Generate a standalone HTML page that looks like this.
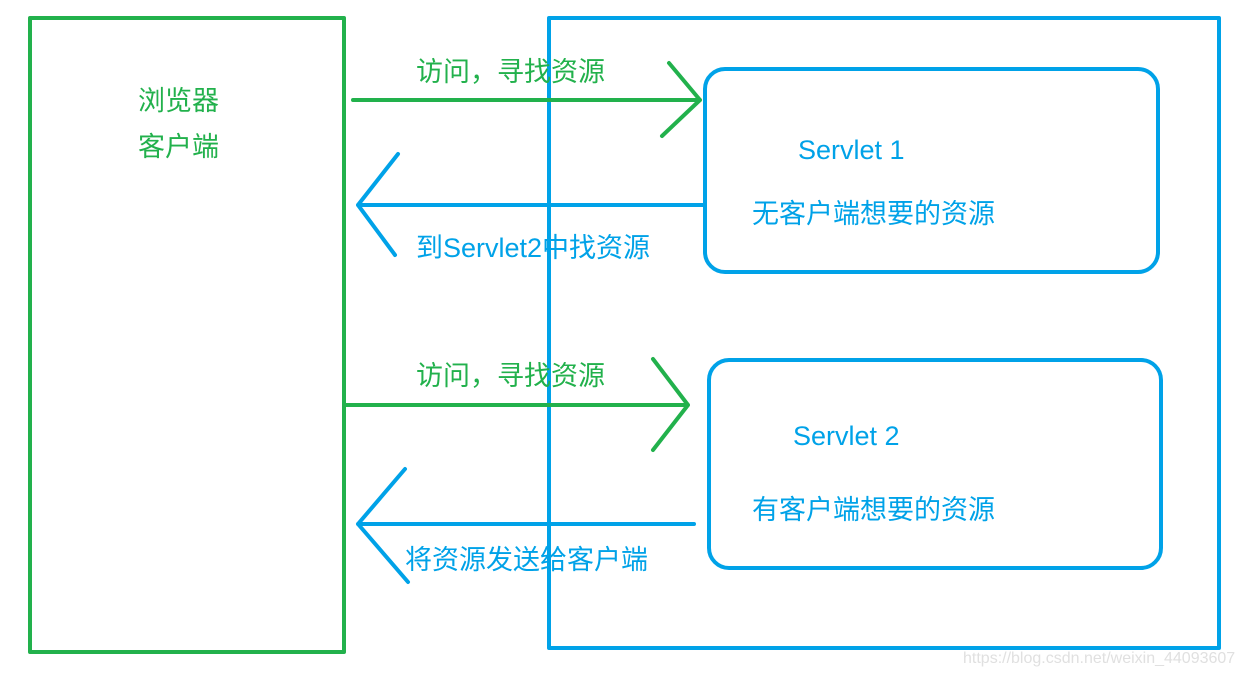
<!DOCTYPE html>
<html><head><meta charset="utf-8"><style>
html,body{margin:0;padding:0;background:#fff;}
svg text{font-family:"Liberation Sans","Noto Sans CJK SC",sans-serif;font-size:27px;}
</style></head><body>
<svg width="1245" height="675" viewBox="0 0 1245 675" xmlns="http://www.w3.org/2000/svg">
<g fill="none" stroke-width="4" stroke-linecap="round" stroke-linejoin="round">
<rect x="30" y="18" width="314" height="634" stroke="#22b14c" stroke-linecap="butt"/>
<rect x="549" y="18" width="670" height="630" stroke="#00a2e8" stroke-linecap="butt"/>
<rect x="705" y="69" width="453" height="203" rx="20" stroke="#00a2e8"/>
<rect x="709" y="360" width="452" height="208" rx="20" stroke="#00a2e8"/>
<path d="M353 100H700M669 63L700 100L662 136" stroke="#22b14c"/>
<path d="M705 205H358M398 154L358 205L395 255" stroke="#00a2e8"/>
<path d="M344 405H688M653 359L688 405L653 450" stroke="#22b14c"/>
<path d="M694 524H358M405 469L358 524L408 582" stroke="#00a2e8"/>
</g>
<g fill="#22b14c">
<text x="138" y="110">浏览器</text>
<text x="138" y="156">客户端</text>
<text x="416" y="81">访问，寻找资源</text>
<text x="416" y="385">访问，寻找资源</text>
</g>
<g fill="#00a2e8">
<text x="798" y="159">Servlet 1</text>
<text x="752" y="223">无客户端想要的资源</text>
<text x="416" y="257">到Servlet2中找资源</text>
<text x="793" y="445">Servlet 2</text>
<text x="752" y="519">有客户端想要的资源</text>
<text x="405" y="569">将资源发送给客户端</text>
</g>
<text x="963" y="663" fill="#e0e0e0" style="font-size:16px">https://blog.csdn.net/weixin_44093607</text>
</svg>
</body></html>
